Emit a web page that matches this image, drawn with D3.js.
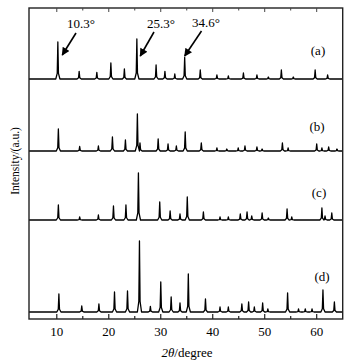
<!DOCTYPE html>
<html><head><meta charset="utf-8">
<script src="https://cdn.jsdelivr.net/npm/d3@7/dist/d3.min.js"></script>
<style>body{margin:0;background:#fff}svg{display:block}text{font-family:"Liberation Serif","Times New Roman",serif;fill:#000}</style>
</head><body><svg id="c" width="352" height="362"></svg>
<script>
// ---- data ----
const seriesNames = ["(a)", "(b)", "(c)", "(d)"];
const offsets = [240, 168, 99, 7];   // vertical stacking offsets (a.u.)
const posA = [10.3,14.4,17.8,20.5,23.1,25.5,29.2,30.9,32.8,34.7,37.7,40.9,43.1,46.0,48.6,50.8,53.3,55.6,59.8,62.2];
const hA   = [37,7.6,6.6,16,10,40,14,7.6,5,21.6,9,4,3,6,4,2,9,2,9,4];
const posB = [10.4,14.5,18.1,20.8,23.3,25.6,26.1,29.6,31.5,33.1,34.8,37.9,40.9,42.8,45.0,46.3,48.6,49.6,53.5,54.6,60.1,61.1,62.4,64.0];
const hB   = [22,4.5,5,14,11,37,8,12,7,5,19,8,3,2,3,5,4,2,8,3,7,3,4,2];
const posC = [10.4,14.5,18.1,21.0,23.4,25.8,29.9,31.9,33.8,35.2,38.3,41.5,43.1,45.4,46.7,47.6,49.6,50.8,54.4,55.3,61.1,61.7,63.0];
const hC   = [15,3,5,14,15,47,18,9,6,23,8,3,3,6,8,4,7,2,11,3,12,4,7];
const posD = [10.5,14.9,18.2,21.2,23.7,26.0,28.1,30.1,32.1,33.8,35.4,38.7,41.5,43.1,45.7,47.0,48.1,49.7,50.7,54.5,56.6,57.9,59.2,61.3,63.5];
const hD   = [18,6,8,20,21,71,5.6,30,15,9,38,13,5,5,8,10,5,9,3,19,3,3,3,22,10];
const annoLabels = ["10.3°", "25.3°", "34.6°"];
const annoAngles = [10.3, 25.3, 34.6];
const majorTicks = [10, 20, 30, 40, 50, 60];
const minorTicks = [15, 25, 35, 45, 55];

// ---- layout ----
const L = 29, R = 342.7, T = 8, B = 319;
const x = d3.scaleLinear().domain([4.75, 65.1]).range([L, R]);
const y = d3.scaleLinear().domain([0, B - T]).range([B, T]);
const svg = d3.select("#c");

const peaks = [[posA,hA],[posB,hB],[posC,hC],[posD,hD]];
const line = d3.line().x(d => x(d[0])).y(d => y(d[1]));
svg.append("clipPath").attr("id","pc").append("rect")
  .attr("x", L).attr("y", T).attr("width", R - L).attr("height", B - T);

peaks.forEach(([pos, h], i) => {
  const off = offsets[i];
  const pts = [[x.domain()[0], off]];
  pos.forEach((p, k) => {
    const hh = h[k];
    [[p-0.4,0],[p-0.12,0.15*hh],[p-0.04,0.7*hh],[p,hh],[p+0.04,0.7*hh],[p+0.12,0.15*hh],[p+0.4,0]].forEach(q => {
      const last = pts[pts.length-1];
      if (q[0] > last[0]) pts.push([q[0], off + q[1]]);
    });
  });
  pts.push([x.domain()[1], off]);
  svg.append("path").attr("d", line(pts)).attr("fill","none")
    .attr("stroke","#000").attr("stroke-width",1.3).attr("stroke-linejoin","round")
    .attr("clip-path","url(#pc)");
});

// frame
svg.append("rect").attr("x", L).attr("y", T).attr("width", R - L).attr("height", B - T)
  .attr("fill","none").attr("stroke","#222").attr("stroke-width",1.4);

// ticks (inward, bottom and top)
const axB = d3.axisBottom(x).tickValues(majorTicks).tickSize(-5).tickSizeOuter(0).tickPadding(8).tickFormat(d3.format("d"));
const gB = svg.append("g").attr("transform",`translate(0,${B})`).call(axB);
gB.select(".domain").remove();
gB.selectAll("line").attr("stroke","#222").attr("stroke-width",1.2);
gB.selectAll("text").attr("font-size", 13).attr("font-family","Liberation Serif").attr("fill","#000");
const gBm = svg.append("g").attr("transform",`translate(0,${B})`)
  .call(d3.axisBottom(x).tickValues(minorTicks).tickSize(-3).tickSizeOuter(0).tickFormat(""));
gBm.select(".domain").remove();
gBm.selectAll("line").attr("stroke","#222").attr("stroke-width",1.2);
const gT = svg.append("g").attr("transform",`translate(0,${T})`)
  .call(d3.axisTop(x).tickValues(majorTicks).tickSize(-4).tickSizeOuter(0).tickFormat(""));
gT.select(".domain").remove();
gT.selectAll("line").attr("stroke","#444").attr("stroke-width",1);
const gTm = svg.append("g").attr("transform",`translate(0,${T})`)
  .call(d3.axisTop(x).tickValues(minorTicks).tickSize(-2.5).tickSizeOuter(0).tickFormat(""));
gTm.select(".domain").remove();
gTm.selectAll("line").attr("stroke","#444").attr("stroke-width",1);

// axis titles
const xt = svg.append("text").attr("x", 187).attr("y", 357).attr("text-anchor","middle").attr("font-size", 13);
xt.append("tspan").attr("font-style","italic").text("2θ");
xt.append("tspan").text("/degree");
svg.append("text").attr("transform","translate(19,161) rotate(-90)").attr("text-anchor","middle")
  .attr("font-size", 11.5).attr("font-family","Liberation Sans, Arial, sans-serif").text("Intensity/(a.u.)");

// series labels
const labelAt = [[318, 50], [317, 126], [319, 192], [322, 276]];
seriesNames.forEach((n, i) => {
  svg.append("text").attr("x", labelAt[i][0]).attr("y", labelAt[i][1] + 4.5)
    .attr("text-anchor","middle").attr("font-size", 13).text(n);
});

// annotations with arrows
svg.append("defs").append("marker").attr("id","ah").attr("viewBox","0 0 10 10")
  .attr("refX", 9).attr("refY", 5).attr("markerWidth", 5.5).attr("markerHeight", 5)
  .attr("orient","auto").attr("markerUnits","strokeWidth")
  .append("path").attr("d","M0,0 L10,5 L0,10 z").attr("fill","#000");
const annoText = [[81, 28], [161, 28], [206, 27]];
const arrowFrom = [[76, 33], [154, 32], [201.5, 31]];
const arrowTipOff = [[0.85, 55], [0.85, 56], [0.1, 56]];
annoAngles.forEach((a, i) => {
  svg.append("text").attr("x", annoText[i][0]).attr("y", annoText[i][1])
    .attr("text-anchor","middle").attr("font-size", 13).text(annoLabels[i]);
  svg.append("line").attr("x1", arrowFrom[i][0]).attr("y1", arrowFrom[i][1])
    .attr("x2", x(a + arrowTipOff[i][0])).attr("y2", arrowTipOff[i][1])
    .attr("stroke","#000").attr("stroke-width", 1.6).attr("marker-end","url(#ah)");
});
</script></body></html>
